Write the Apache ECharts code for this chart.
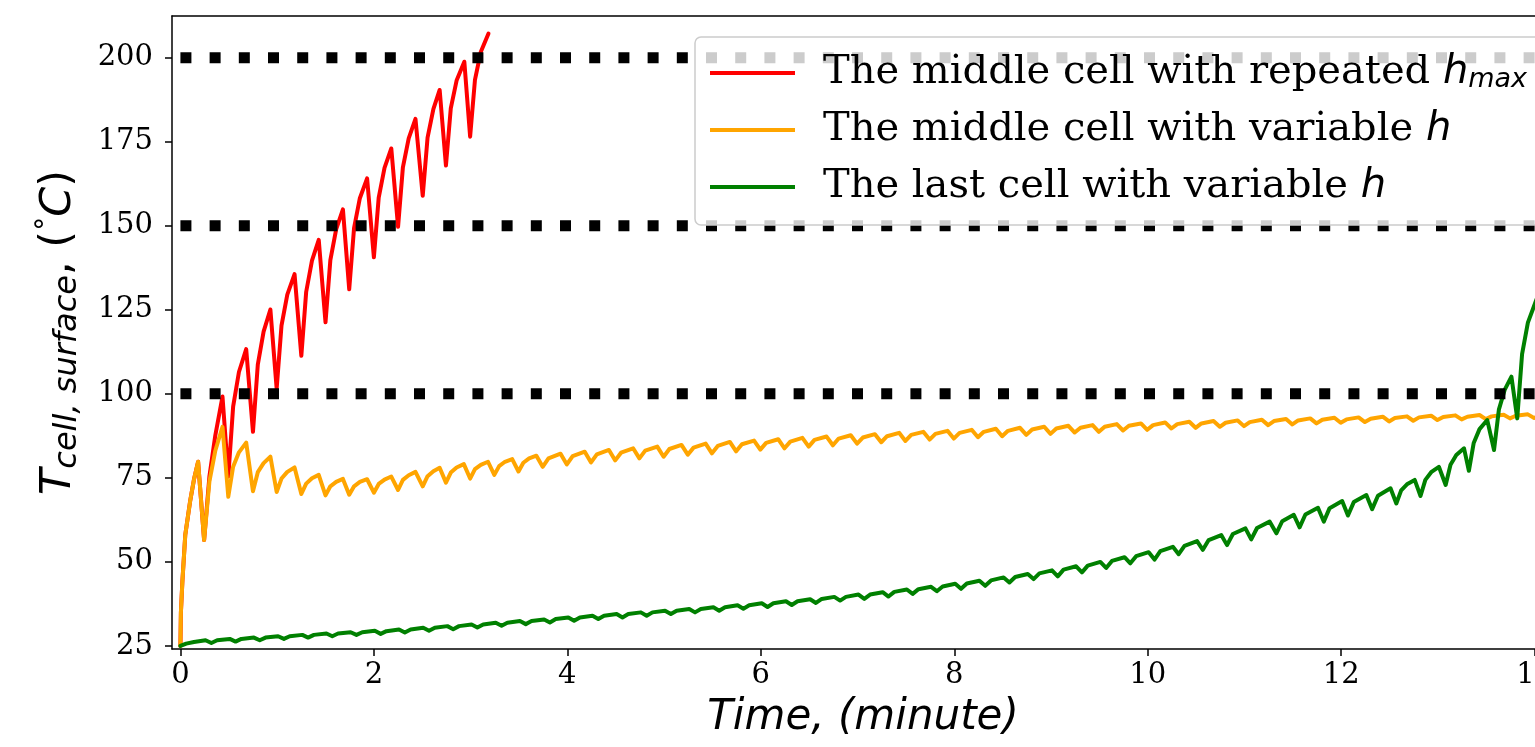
<!DOCTYPE html>
<html>
<head>
<meta charset="utf-8">
<script src="https://cdn.jsdelivr.net/npm/echarts@6/dist/echarts.min.js"></script>
<style>
html, body { margin: 0; padding: 0; background: #fff; }
#chart { width: 1535px; height: 747px; }
</style>
</head>
<body>
<div id="chart"></div>
<script>
// тики осей
const timeTicks = [0, 2, 4, 6, 8, 10, 12, 14];
const tempTicks = [25, 50, 75, 100, 125, 150, 175, 200];

// пунктирные пороги
const limitTemps = [100, 150, 200];
const limitSpan = [0, 14.2];

// имена серий
const seriesNames = [
    'The middle cell with repeated h_max',
    'The middle cell with variable h',
    'The last cell with variable h'
];

// средняя ячейка, повторный h_max  [время, температура]
const redData = [
    [0, 25], [0.005, 35], [0.02, 44], [0.05, 58], [0.1, 68], [0.14, 74.5], [0.183, 79.8],
    [0.245, 56.5], [0.3, 75.5], [0.36, 87.5], [0.435, 99.2],
    [0.495, 75.4], [0.545, 96.2], [0.605, 106.5], [0.68, 113.3],
    [0.75, 88.7], [0.8, 108.7], [0.86, 118.5], [0.93, 125.1],
    [0.995, 101.6], [1.045, 120.3], [1.105, 129.5], [1.18, 135.6],
    [1.25, 111.3], [1.3, 130.3], [1.36, 139.6], [1.43, 145.8],
    [1.5, 121.3], [1.55, 139.8], [1.61, 148.9], [1.68, 154.9],
    [1.745, 131.1], [1.795, 149.3], [1.855, 158.2], [1.93, 164.1],
    [2.0, 140.6], [2.05, 158.4], [2.11, 167.2], [2.18, 173.0],
    [2.25, 149.7], [2.3, 167.4], [2.36, 176.0], [2.43, 181.8],
    [2.505, 158.9], [2.555, 176.2], [2.615, 184.7], [2.68, 190.4],
    [2.745, 167.9], [2.795, 184.9], [2.855, 193.2], [2.935, 198.8],
    [2.995, 176.5], [3.045, 193.4], [3.105, 201.7], [3.185, 207.2]
];

// средняя ячейка, переменный h
const orangeData = [
    [0, 25], [0.005, 35], [0.02, 44], [0.05, 58], [0.1, 68], [0.14, 74.5], [0.183, 79.8],
    [0.245, 56.5], [0.3, 74], [0.36, 83], [0.435, 90.2],
    [0.495, 69.4], [0.545, 78.3], [0.605, 82.6], [0.68, 85.5],
    [0.75, 71.0], [0.8, 76.7], [0.86, 79.4], [0.93, 81.3],
    [0.995, 70.8], [1.045, 74.8], [1.105, 76.8], [1.18, 78.1],
    [1.25, 70.2], [1.3, 73.3], [1.36, 74.9], [1.43, 75.9],
    [1.5, 69.8], [1.55, 72.5], [1.61, 73.8], [1.68, 74.7],
    [1.745, 70.0], [1.795, 72.5], [1.855, 73.8], [1.93, 74.6],
    [2.0, 70.6], [2.05, 73.2], [2.11, 74.5], [2.18, 75.4],
    [2.25, 71.4], [2.3, 74.4], [2.36, 75.8], [2.43, 76.8],
    [2.505, 72.5], [2.555, 75.5], [2.615, 77.0], [2.68, 78.0],
    [2.745, 73.6], [2.795, 76.6], [2.855, 78.1], [2.93, 79.1],
    [2.995, 74.8], [3.045, 77.6], [3.105, 78.9], [3.18, 79.8],
    [3.245, 75.9], [3.295, 78.5], [3.355, 79.8], [3.43, 80.6],
    [3.495, 76.9], [3.545, 79.5], [3.605, 80.8], [3.68, 81.6],
    [3.745, 78.3], [3.805, 80.8], [3.93, 82.2],
    [3.995, 79.0], [4.055, 81.5], [4.18, 82.8],
    [4.245, 79.6], [4.305, 82.0], [4.43, 83.3],
    [4.495, 80.2], [4.555, 82.5], [4.68, 83.8],
    [4.745, 80.8], [4.805, 83.1], [4.93, 84.3],
    [4.995, 81.3], [5.055, 83.6], [5.18, 84.8],
    [5.245, 81.9], [5.305, 84.0], [5.43, 85.2],
    [5.495, 82.3], [5.555, 84.5], [5.68, 85.7],
    [5.745, 82.9], [5.805, 85.0], [5.93, 86.1],
    [5.995, 83.4], [6.055, 85.4], [6.18, 86.5],
    [6.245, 83.8], [6.305, 85.8], [6.43, 86.9],
    [6.495, 84.3], [6.555, 86.3], [6.68, 87.3],
    [6.745, 84.7], [6.805, 86.7], [6.93, 87.7],
    [6.995, 85.2], [7.055, 87.0], [7.18, 88.0],
    [7.245, 85.6], [7.305, 87.4], [7.43, 88.4],
    [7.495, 86.0], [7.555, 87.8], [7.68, 88.7],
    [7.745, 86.4], [7.805, 88.1], [7.93, 89.0],
    [7.995, 86.7], [8.055, 88.4], [8.18, 89.3],
    [8.245, 87.1], [8.305, 88.7], [8.43, 89.6],
    [8.495, 87.4], [8.555, 89.0], [8.68, 89.9],
    [8.745, 87.8], [8.805, 89.4], [8.93, 90.2],
    [8.995, 88.1], [9.055, 89.7], [9.18, 90.5],
    [9.245, 88.5], [9.305, 89.9], [9.43, 90.7],
    [9.495, 88.7], [9.555, 90.2], [9.68, 91.0],
    [9.745, 89.1], [9.805, 90.5], [9.93, 91.2],
    [9.995, 89.3], [10.055, 90.7], [10.18, 91.5],
    [10.245, 89.7], [10.305, 91.0], [10.43, 91.7],
    [10.495, 89.9], [10.555, 91.2], [10.68, 91.9],
    [10.745, 90.2], [10.805, 91.4], [10.93, 92.1],
    [10.995, 90.4], [11.055, 91.6], [11.18, 92.3],
    [11.245, 90.7], [11.305, 91.9], [11.43, 92.5],
    [11.495, 90.9], [11.555, 92.1], [11.68, 92.7],
    [11.745, 91.2], [11.805, 92.3], [11.93, 92.9],
    [11.995, 91.4], [12.055, 92.4], [12.18, 93.0],
    [12.245, 91.6], [12.305, 92.6], [12.43, 93.2],
    [12.495, 91.8], [12.555, 92.8], [12.68, 93.3],
    [12.745, 92.0], [12.805, 93.0], [12.93, 93.5],
    [12.995, 92.2], [13.055, 93.1], [13.18, 93.6],
    [13.245, 92.4], [13.305, 93.2], [13.43, 93.7],
    [13.495, 92.5], [13.555, 93.3], [13.68, 93.8],
    [13.745, 92.7], [13.805, 93.5], [13.93, 93.9],
    [13.995, 92.8], [14.055, 93.6], [14.18, 94.0]
];

// последняя ячейка, переменный h
const greenData = [
    [0, 25], [0.06, 25.7], [0.14, 26.2], [0.26, 26.7],
    [0.32, 25.9], [0.38, 26.7], [0.51, 27.1],
    [0.57, 26.3], [0.63, 27.1], [0.76, 27.5],
    [0.82, 26.7], [0.88, 27.5], [1.01, 27.9],
    [1.07, 27.1], [1.13, 27.9], [1.26, 28.3],
    [1.32, 27.5], [1.38, 28.3], [1.51, 28.7],
    [1.57, 27.9], [1.63, 28.7], [1.76, 29.1],
    [1.82, 28.3], [1.88, 29.1], [2.01, 29.5],
    [2.07, 28.6], [2.13, 29.4], [2.26, 29.9],
    [2.32, 29.0], [2.38, 29.9], [2.51, 30.4],
    [2.57, 29.5], [2.63, 30.4], [2.76, 30.9],
    [2.82, 30.0], [2.88, 30.9], [3.01, 31.4],
    [3.07, 30.5], [3.13, 31.4], [3.26, 31.9],
    [3.32, 31.0], [3.38, 31.9], [3.51, 32.4],
    [3.57, 31.5], [3.63, 32.4], [3.76, 32.9],
    [3.82, 32.0], [3.88, 33.0], [4.01, 33.5],
    [4.07, 32.5], [4.13, 33.5], [4.26, 34.0],
    [4.32, 33.0], [4.38, 34.0], [4.51, 34.5],
    [4.57, 33.5], [4.63, 34.5], [4.76, 35.0],
    [4.82, 34.0], [4.88, 35.0], [5.01, 35.5],
    [5.07, 34.5], [5.13, 35.5], [5.26, 36.0],
    [5.32, 35.0], [5.38, 36.0], [5.51, 36.5],
    [5.57, 35.5], [5.63, 36.5], [5.76, 37.1],
    [5.82, 36.1], [5.88, 37.1], [6.01, 37.7],
    [6.07, 36.6], [6.13, 37.7], [6.26, 38.3],
    [6.32, 37.2], [6.38, 38.3], [6.51, 38.9],
    [6.57, 37.8], [6.63, 39.0], [6.76, 39.6],
    [6.82, 38.5], [6.88, 39.6], [7.01, 40.3],
    [7.07, 39.0], [7.13, 40.3], [7.26, 41.0],
    [7.32, 39.7], [7.38, 41.1], [7.51, 41.8],
    [7.57, 40.5], [7.63, 41.9], [7.76, 42.6],
    [7.82, 41.3], [7.88, 42.7], [8.01, 43.5],
    [8.07, 42.0], [8.13, 43.6], [8.26, 44.4],
    [8.32, 42.9], [8.38, 44.5], [8.51, 45.4],
    [8.57, 43.9], [8.63, 45.5], [8.76, 46.4],
    [8.82, 44.9], [8.88, 46.6], [9.01, 47.5],
    [9.07, 45.7], [9.13, 47.7], [9.26, 48.7],
    [9.32, 46.9], [9.38, 48.9], [9.51, 50.0],
    [9.57, 48.2], [9.63, 50.3], [9.76, 51.4],
    [9.82, 49.6], [9.88, 51.7], [10.01, 52.9],
    [10.07, 50.7], [10.13, 53.2], [10.26, 54.5],
    [10.32, 52.3], [10.38, 54.8], [10.51, 56.2],
    [10.57, 53.6], [10.63, 56.5], [10.76, 58.0],
    [10.82, 55.0], [10.88, 58.3], [11.01, 60.0],
    [11.07, 56.7], [11.13, 60.1], [11.26, 62.0],
    [11.33, 58.5], [11.39, 62.1], [11.51, 64.0],
    [11.57, 60.3], [11.63, 64.1], [11.76, 66.1],
    [11.82, 62.0], [11.88, 66.0], [12.01, 68.1],
    [12.07, 63.8], [12.13, 67.8], [12.26, 69.9],
    [12.32, 65.7], [12.38, 69.7], [12.51, 71.9],
    [12.57, 67.4], [12.62, 71.3], [12.68, 73.1], [12.76, 74.4],
    [12.82, 69.6], [12.87, 74.4], [12.93, 76.7], [13.01, 78.3],
    [13.08, 72.9], [13.13, 78.9], [13.19, 81.8], [13.27, 83.8],
    [13.32, 77.1], [13.37, 85.4], [13.43, 89.5], [13.51, 92.2],
    [13.58, 83.3], [13.63, 95.3], [13.69, 101.2], [13.76, 105.1],
    [13.82, 92.7], [13.87, 111.8], [13.93, 121.2], [14.01, 127.4], [14.05, 130.5]
];

const lineColors = ['#ff0000', '#ffa500', '#008000'];
const curves = [redData, orangeData, greenData];

const chart = echarts.init(document.getElementById('chart'));

// кривые
const series = curves.map((d, i) => ({
    name: seriesNames[i],
    type: 'line',
    data: d,
    showSymbol: false,
    symbol: 'none',
    smooth: false,
    lineStyle: { color: lineColors[i], width: 4, join: 'round', cap: 'round' },
    itemStyle: { color: lineColors[i] },
    z: 2
}));

// пунктир
limitTemps.forEach(v => {
    series.push({
        name: 'limit ' + v,
        type: 'line',
        data: [[limitSpan[0], v], [limitSpan[1], v]],
        showSymbol: false,
        symbol: 'none',
        lineStyle: { color: '#000', width: 11, type: [11, 18.2], cap: 'butt' },
        silent: true,
        z: 3
    });
});

const serif = 'DejaVu Serif';
const sans = 'DejaVu Sans';

const options = {
    animation: false,
    backgroundColor: '#fff',
    grid: { left: 172, top: 16, width: 1382, height: 633, outerBoundsMode: 'none', containLabel: false },
    legend: {
        data: seriesNames.map(n => ({ name: n, icon: 'rect' })),
        orient: 'vertical',
        left: 695,
        top: 37,
        padding: [16, 20, 18, 15],
        itemWidth: 85,
        itemHeight: 4,
        itemGap: 17,
        backgroundColor: 'rgba(255,255,255,0.8)',
        borderColor: '#cccccc',
        borderWidth: 1.5,
        borderRadius: 6,
        formatter: function (name) {
            if (name === seriesNames[0]) return '{g| }{n|The middle cell with repeated }{h|h}{s|max}';
            if (name === seriesNames[1]) return '{g| }{n|The middle cell with variable }{h|h}';
            return '{g| }{n|The last cell with variable }{h|h}';
        },
        textStyle: {
            color: '#000',
            rich: {
                g: { width: 23, fontSize: 10 },
                n: { fontFamily: serif, fontSize: 40, color: '#000', verticalAlign: 'middle' },
                h: { fontFamily: sans, fontStyle: 'italic', fontSize: 40, color: '#000', verticalAlign: 'middle' },
                s: { fontFamily: sans, fontStyle: 'italic', fontSize: 27, color: '#000', lineHeight: 30, verticalAlign: 'bottom' }
            }
        }
    },
    xAxis: [
        {
            type: 'value',
            min: -0.087,
            max: 14.2,
            axisLine: { show: true, onZero: false, lineStyle: { color: '#000', width: 1.5 } },
            axisTick: { show: true, length: 7, customValues: timeTicks, lineStyle: { color: '#000', width: 1.5 } },
            axisLabel: { customValues: timeTicks, fontFamily: serif, fontSize: 29, color: '#000', margin: 12 },
            splitLine: { show: false },
            name: '{i|Time, (minute)}',
            nameLocation: 'middle',
            nameGap: 48,
            nameTextStyle: {
                rich: { i: { fontFamily: sans, fontStyle: 'italic', fontSize: 42, color: '#000' } }
            }
        },
        {
            type: 'value',
            position: 'top',
            min: -0.087,
            max: 14.2,
            axisLine: { show: true, onZero: false, lineStyle: { color: '#000', width: 1.5 } },
            axisTick: { show: false },
            axisLabel: { show: false },
            splitLine: { show: false }
        }
    ],
    yAxis: {
        type: 'value',
        min: 24.1,
        max: 212.4,
        axisLine: { show: true, onZero: false, lineStyle: { color: '#000', width: 1.5 } },
        axisTick: { show: true, length: 7, customValues: tempTicks, lineStyle: { color: '#000', width: 1.5 } },
        axisLabel: { customValues: tempTicks, fontFamily: serif, fontSize: 29, color: '#000', margin: 19 },
        splitLine: { show: false },
        name: '{t|T}{s|cell, surface}{n|, (}{d|°}{t|C}{n|)}',
        nameLocation: 'middle',
        nameRotate: 90,
        nameGap: 88,
        nameTextStyle: {
            rich: {
                t: { fontFamily: sans, fontStyle: 'italic', fontSize: 43, color: '#000', lineHeight: 50, verticalAlign: 'middle' },
                s: { fontFamily: sans, fontStyle: 'italic', fontSize: 32, color: '#000', lineHeight: 36, verticalAlign: 'bottom' },
                n: { fontFamily: sans, fontSize: 43, color: '#000', lineHeight: 50, verticalAlign: 'middle' },
                d: { fontFamily: sans, fontSize: 28, color: '#000', lineHeight: 50, verticalAlign: 'top' }
            }
        }
    },
    series: series
};

chart.setOption(options);
</script>
</body>
</html>
